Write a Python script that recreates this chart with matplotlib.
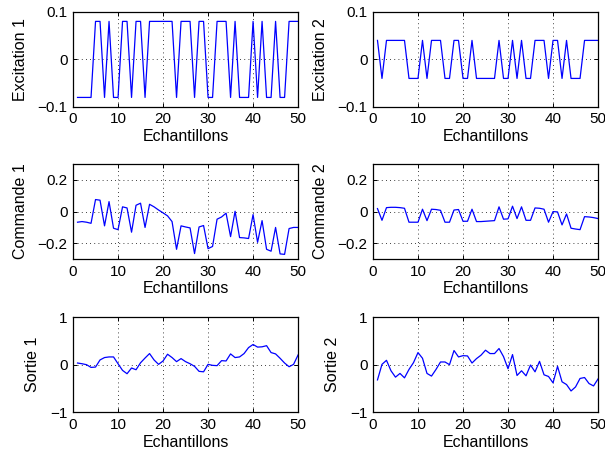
import numpy as np
import matplotlib
matplotlib.use('Agg')
import matplotlib.pyplot as plt

plt.rcParams['font.family'] = ['Liberation Sans', 'DejaVu Sans']
plt.rcParams['font.size'] = 11

# Echantillons 1..50
n = np.arange(1, 51)

# Excitations (signaux binaires)
H1, L1 = 0.08, -0.08
excitation1 = [L1, L1, L1, L1, H1, H1, L1, H1, L1, L1,
               H1, H1, L1, H1, H1, L1, H1, H1, H1, H1,
               H1, H1, L1, H1, H1, H1, L1, H1, H1, L1,
               L1, H1, H1, H1, L1, H1, L1, L1, L1, H1,
               L1, H1, L1, L1, H1, L1, L1, H1, H1, H1]
H2, L2 = 0.04, -0.04
excitation2 = [H2, L2, H2, H2, H2, H2, H2, L2, L2, L2,
               H2, L2, H2, H2, H2, L2, L2, H2, H2, L2,
               L2, H2, L2, L2, L2, L2, L2, H2, L2, L2,
               H2, L2, H2, L2, L2, H2, H2, H2, L2, H2,
               H2, L2, H2, L2, L2, L2, H2, H2, H2, H2]

# Commandes
commande1 = [-0.067, -0.063, -0.067, -0.074, 0.076, 0.072, -0.09, 0.063, -0.105, -0.114,
             0.03, 0.023, -0.13, 0.04, 0.053, -0.10, 0.046, 0.03, 0.01, -0.008,
             -0.027, -0.063, -0.238, -0.09, -0.097, -0.103, -0.265, -0.097, -0.088, -0.234,
             -0.22, -0.048, -0.034, -0.01, -0.158, 0.002, -0.164, -0.166, -0.17, -0.019,
             -0.194, -0.057, -0.238, -0.25, -0.10, -0.267, -0.27, -0.107, -0.10, -0.10]
commande2 = [0.019, -0.055, 0.025, 0.027, 0.027, 0.025, 0.021, -0.067, -0.067, -0.067,
             0.015, -0.057, 0.015, 0.013, 0.008, -0.067, -0.067, 0.01, 0.013, -0.061,
             -0.061, 0.015, -0.063, -0.063, -0.061, -0.059, -0.057, 0.03, -0.048, -0.046,
             0.034, -0.044, 0.03, -0.055, -0.055, 0.023, 0.021, 0.015, -0.067, 0.0,
             -0.002, -0.084, -0.015, -0.105, -0.11, -0.114, -0.032, -0.034, -0.038, -0.044]

# Sorties
sortie1 = [0.035, 0.02, 0.0, -0.057, -0.05, 0.1, 0.15, 0.163, 0.163, 0.02,
           -0.12, -0.19, -0.07, -0.106, 0.04, 0.14, 0.234, 0.1, 0.007, 0.078,
           0.22, 0.15, 0.064, 0.128, 0.064, 0.02, -0.035, -0.14, -0.15, 0.007,
           -0.014, -0.02, 0.085, 0.078, 0.227, 0.15, 0.163, 0.234, 0.36, 0.425,
           0.37, 0.376, 0.4, 0.255, 0.227, 0.135, 0.035, -0.043, 0.007, 0.205]
sortie2 = [-0.32, 0.007, 0.092, -0.128, -0.262, -0.184, -0.277, -0.1, 0.043, 0.255,
           0.135, -0.184, -0.24, -0.1, 0.057, 0.057, 0.0, 0.298, 0.163, 0.19,
           0.184, 0.035, 0.128, 0.2, 0.305, 0.234, 0.234, 0.34, 0.17, -0.085,
           0.213, -0.227, -0.128, -0.234, -0.007, -0.15, 0.07, -0.213, -0.248, -0.383,
           -0.035, -0.36, -0.418, -0.553, -0.468, -0.29, -0.27, -0.397, -0.447, -0.3]

panels = [
    (excitation1, 'Excitation 1', [-0.1, 0, 0.1], ['\u22120.1', '0', '0.1']),
    (excitation2, 'Excitation 2', [-0.1, 0, 0.1], ['\u22120.1', '0', '0.1']),
    (commande1, 'Commande 1', [-0.2, 0, 0.2], ['\u22120.2', '0', '0.2']),
    (commande2, 'Commande 2', [-0.2, 0, 0.2], ['\u22120.2', '0', '0.2']),
    (sortie1, 'Sortie 1', [-1, 0, 1], ['\u22121', '0', '1']),
    (sortie2, 'Sortie 2', [-1, 0, 1], ['\u22121', '0', '1']),
]
ylims = [(-0.1, 0.1), (-0.1, 0.1), (-0.3, 0.3), (-0.3, 0.3), (-1, 1), (-1, 1)]

fig = plt.figure(figsize=(6.05, 4.57), dpi=100)
lefts = [0.1207, 0.6165]
bottoms = [0.766, 0.433, 0.098]
w, h = 0.372, 0.208

for i, (data, label, yt, ytl) in enumerate(panels):
    ax = fig.add_axes([lefts[i % 2], bottoms[i // 2], w, h])
    ax.plot(n, data, color='blue', lw=0.9)
    ax.set_xlim(0, 50)
    ax.set_ylim(*ylims[i])
    ax.set_xticks([0, 10, 20, 30, 40, 50])
    ax.set_yticks(yt)
    ax.set_yticklabels(ytl)
    ax.grid(True, color='black', linestyle=(0, (1, 4)), lw=0.6)
    ax.tick_params(direction='in', top=True, right=True, length=3, width=0.7,
                   labelsize=11, pad=4)
    for s in ax.spines.values():
        s.set_linewidth(0.9)
    ax.set_xlabel('Echantillons', fontsize=11.5, labelpad=2)
    ax.set_ylabel(label, fontsize=11.5, labelpad=7)

fig.savefig('out.png', dpi=100)
